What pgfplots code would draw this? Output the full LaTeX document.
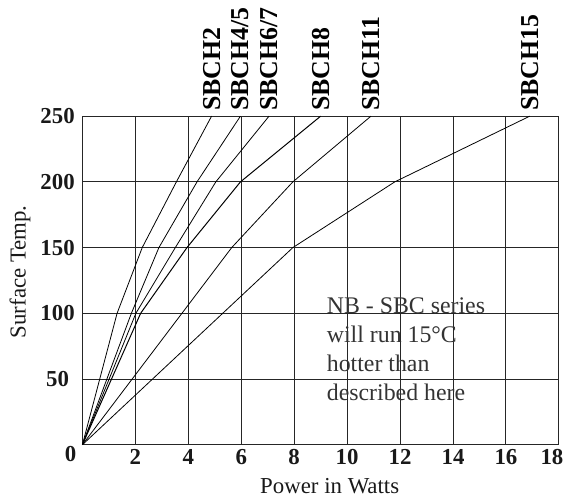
\documentclass[border=0pt]{standalone}
\usepackage{fontspec}
\setmainfont{Liberation Serif}
\usepackage{pgfplots}
\pgfplotsset{compat=1.18}
\tikzset{lbl/.style={rotate=90, anchor=west, inner sep=2.5pt, text=black,
                     font=\fontsize{13}{13}\selectfont\bfseries}}
\begin{document}
\begin{tikzpicture}
  \begin{axis}[
      scale only axis,
      width=240pt, height=165.5pt,
      xmin=0, xmax=18, ymin=0, ymax=250,
      clip=false,
      axis line style={black!85, line width=0.5pt},
      xtick={2,4,...,16},
      ytick={50,100,...,250},
      major tick length=0pt,
      grid=major,
      major grid style={black!85, line width=0.5pt},
      /pgf/number format/assume math mode=true,
      ticklabel style={font=\fontsize{11.5}{12}\selectfont\bfseries, text=black!90},
      yticklabel style={anchor=center, xshift=-12.5pt},
      xticklabel style={anchor=center, yshift=-6pt},
      extra x ticks={18},
      extra x tick labels={18},
      extra x tick style={xticklabel style={xshift=-3.5pt}},
      extra y ticks={0},
      extra y tick labels={0},
      extra y tick style={yticklabel style={xshift=6.5pt, yshift=-4.5pt}},
      xlabel={Power in Watts},
      ylabel={Surface Temp.},
      label style={font=\fontsize{11.5}{12}\selectfont, text=black!90},
      xlabel style={at={(axis description cs:0.519,-0.148)}, anchor=base},
      ylabel style={at={(axis description cs:-0.131,0.526)}, anchor=center},
      cycle list={{black, solid, no markers, line width=0.5pt}}
    ]
    % SBCH2
    \addplot coordinates {(0,0) (1.31,100) (2.26,150) (3.55,200) (4.88,250)}
      node[pos=1, lbl] {SBCH2};
    % SBCH4/5
    \addplot coordinates {(0,0) (1.85,100) (2.89,150) (4.33,200) (5.97,250)}
      node[pos=1, lbl] {SBCH4/5};
    % SBCH6/7
    \addplot coordinates {(0,0) (2.02,100) (3.51,150) (5.04,200) (7.05,250)}
      node[pos=1, lbl] {SBCH6/7};
    % SBCH8
    \addplot coordinates {(0,0) (2.2,100) (3.95,150) (5.97,200) (9.0,250)}
      node[pos=1, lbl] {SBCH8};
    % SBCH11
    \addplot coordinates {(0,0) (5.64,150) (7.95,200) (10.9,250)}
      node[pos=1, lbl] {SBCH11};
    % SBCH15
    \addplot coordinates {(0,0) (7.95,150) (11.8,200) (16.9,250)}
      node[pos=1, lbl] {SBCH15};

    \node[anchor=north west, inner sep=0pt, align=left, text=black!80,
          font=\fontsize{12}{14.5}\selectfont]
      at (axis cs:9.22,111.8)
      {NB - SBC series\\will run 15°C\\hotter than\\described here};
  \end{axis}
  \path ([xshift=-41.5pt,yshift=-26.5pt]current axis.south west)
    rectangle ([xshift=3.5pt,yshift=58.5pt]current axis.north east);
\end{tikzpicture}
\end{document}
